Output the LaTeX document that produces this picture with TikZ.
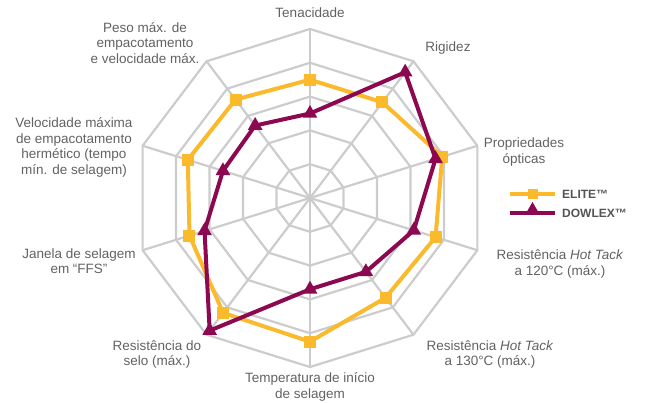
\documentclass[tikz,border=0pt]{standalone}
\usepackage{fontspec}
\setmainfont{Liberation Sans}
\usepackage{tikz}
\usetikzlibrary{shapes.geometric,positioning}
\definecolor{elitecol}{RGB}{251,185,44}
\definecolor{dowlexcol}{RGB}{140,8,80}
\definecolor{gridcol}{RGB}{204,204,204}
\definecolor{labelcol}{RGB}{98,98,98}
\tikzstyle{gridline}   = [draw=gridcol, line width=2.2pt, line join=round]
\tikzstyle{axislabel}  = [align=center, text=labelcol, inner sep=0pt, font=\fontsize{13.5}{15.5}\selectfont]
\tikzstyle{eliteline}  = [draw=elitecol, line width=4pt, line join=round]
\tikzstyle{dowlexline} = [draw=dowlexcol, line width=4pt, line join=round]
\tikzstyle{elitemark}  = [rectangle, fill=elitecol, minimum size=12pt, inner sep=0pt]
\tikzstyle{dowlexmark} = [regular polygon, regular polygon sides=3, fill=dowlexcol, minimum size=17pt, inner sep=0pt]
\tikzstyle{legendtext} = [anchor=west, text=black!67, inner sep=0pt, font=\fontsize{12}{14}\selectfont\bfseries]

\begin{document}
\begin{tikzpicture}[x=1pt,y=-1pt]
        \useasboundingbox (0,0) rectangle (646,403);

        % radar grid
        \begin{scope}[shift={(310,198)}, x=176pt, y=169pt]
            \foreach \r in {0.2,0.4,0.6,0.8,1.0}
                \draw[gridline] (90:\r) -- (54:\r) -- (18:\r) -- (-18:\r) -- (-54:\r)
                    -- (-90:\r) -- (-126:\r) -- (-162:\r) -- (162:\r) -- (126:\r) -- cycle;
            \foreach \a in {90,54,18,-18,-54,-90,-126,-162,162,126}
                \draw[gridline] (0,0) -- (\a:1);

            % ELITE values
            \coordinate (e0) at (90:0.70);
            \coordinate (e1) at (54:0.70);
            \coordinate (e2) at (18:0.79);
            \coordinate (e3) at (-18:0.75);
            \coordinate (e4) at (-54:0.73);
            \coordinate (e5) at (-90:0.85);
            \coordinate (e6) at (-126:0.84);
            \coordinate (e7) at (-162:0.72);
            \coordinate (e8) at (162:0.73);
            \coordinate (e9) at (126:0.72);

            % DOWLEX values
            \coordinate (d0) at (90:0.50);
            \coordinate (d1) at (54:0.92);
            \coordinate (d2) at (18:0.75);
            \coordinate (d3) at (-18:0.62);
            \coordinate (d4) at (-54:0.54);
            \coordinate (d5) at (-90:0.54);
            \coordinate (d6) at (-126:0.97);
            \coordinate (d7) at (-162:0.63);
            \coordinate (d8) at (162:0.52);
            \coordinate (d9) at (126:0.53);
        \end{scope}

        \draw[eliteline] (e0) -- (e1) -- (e2) -- (e3) -- (e4) -- (e5) -- (e6) -- (e7) -- (e8) -- (e9) -- cycle;
        \foreach \i in {0,...,9}
            \node[elitemark] at (e\i) {};

        \draw[dowlexline] (d0) -- (d1) -- (d2) -- (d3) -- (d4) -- (d5) -- (d6) -- (d7) -- (d8) -- (d9) -- cycle;
        \foreach \i in {0,...,9}
            \node[dowlexmark] at (d\i) {};

        % axis labels
        \node[axislabel] (tenacidade) at (310,13) {Tenacidade};
        \node[axislabel] (rigidez) at (448,48) {Rigidez};
        \node[axislabel] (opticas) at (524,152) {Propriedades\\ópticas};
        \node[axislabel] (tack120) at (560,264) {Resistência \textit{Hot Tack}\\a 120°C (máx.)};
        \node[axislabel] (tack130) at (490,354.5) {Resistência \textit{Hot Tack}\\a 130°C (máx.)};
        \node[axislabel] (temperatura) at (310,387) {Temperatura de início\\de selagem};
        \node[axislabel] (selo) at (157,354.5) {Resistência do\\selo (máx.)};
        \node[axislabel] (janela) at (79,261) {Janela de selagem\\em “FFS”};
        \node[axislabel] (velocidade) at (74,147.5) {Velocidade máxima\\de empacotamento\\hermético (tempo\\mín. de selagem)};
        \node[axislabel] (peso) at (145,42.7) {Peso máx. de\\empacotamento\\e velocidade máx.};

        % legend
        \coordinate (eliteA) at (510,194);
        \coordinate (eliteB) at (555,194);
        \draw[eliteline] (eliteA) -- (eliteB);
        \node[elitemark, minimum size=10pt] (eliteKey) at (532.5,194) {};
        \node[legendtext] (eliteTxt) at (562,194) {ELITE™};

        \coordinate (dowlexA) at (510,213);
        \coordinate (dowlexB) at (555,213);
        \draw[dowlexline] (dowlexA) -- (dowlexB);
        \node[dowlexmark, minimum size=16pt] (dowlexKey) at (532.5,210) {};
        \node[legendtext] (dowlexTxt) at (562,213) {DOWLEX™};
    \end{tikzpicture}
\end{document}
